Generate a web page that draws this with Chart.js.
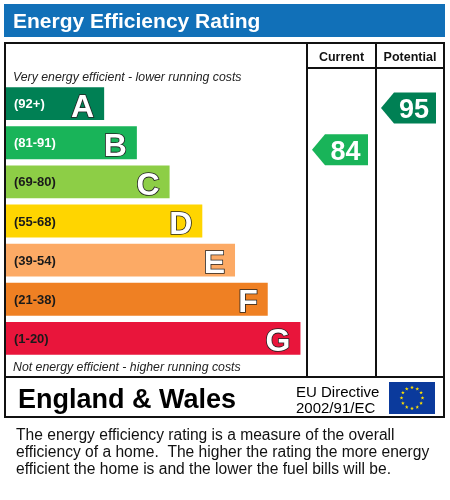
<!DOCTYPE html>
<html>
<head>
<meta charset="utf-8">
<script src="https://cdn.jsdelivr.net/npm/chart.js@4/dist/chart.umd.min.js"></script>
<style>
  html, body { margin: 0; padding: 0; background: #fff; }
  canvas { display: block; }
</style>
</head>
<body>
<canvas id="epcChart" width="450" height="500"></canvas>
<script>
// Rating bands, top (best) to bottom (worst)
const bands = ['A', 'B', 'C', 'D', 'E', 'F', 'G'];
const bandRanges = ['(92+)', '(81-91)', '(69-80)', '(55-68)', '(39-54)', '(21-38)', '(1-20)'];
const bandMin = [92, 81, 69, 55, 39, 21, 1];
const bandMax = [100, 91, 80, 68, 54, 38, 20];
const barLengths = [3, 4, 5, 6, 7, 8, 9];
const bandColors = ['#008054', '#19b459', '#8dce46', '#ffd500', '#fcaa65', '#ef8023', '#e9153b'];
const rangeTextColors = ['#ffffff', '#ffffff', '#1a1a1a', '#1a1a1a', '#1a1a1a', '#1a1a1a', '#1a1a1a'];

const currentRating = 84;
const potentialRating = 95;
const columnHeaders = ['Current', 'Potential'];

const titleText = 'Energy Efficiency Rating';
const topNote = 'Very energy efficient - lower running costs';
const bottomNote = 'Not energy efficient - higher running costs';
const regionText = 'England & Wales';
const directiveLines = ['EU Directive', '2002/91/EC'];
const footerLines = [
    'The energy efficiency rating is a measure of the overall',
    'efficiency of a home.  The higher the rating the more energy',
    'efficient the home is and the lower the fuel bills will be.'
];

const FONT = '"Liberation Sans", Arial, sans-serif';
const BOX = { left: 5, right: 444, top: 43, bottom: 417, footerTop: 377, headerBottom: 68 };
const COLS = [307, 376, 444];

function bandIndexFor(value) {
    return bandMin.findIndex(min => value >= min);
}

function drawArrow(ctx, x0, x1, yc, h, color, text) {
    const notch = 13;
    ctx.beginPath();
    ctx.moveTo(x0, yc);
    ctx.lineTo(x0 + notch, yc - h / 2);
    ctx.lineTo(x1, yc - h / 2);
    ctx.lineTo(x1, yc + h / 2);
    ctx.lineTo(x0 + notch, yc + h / 2);
    ctx.closePath();
    ctx.fillStyle = color;
    ctx.fill();

    ctx.fillStyle = '#ffffff';
    ctx.font = `bold 27px ${FONT}`;
    ctx.textAlign = 'center';
    ctx.textBaseline = 'alphabetic';
    ctx.fillText(text, (x0 + notch + x1) / 2 - 1, yc + 10);
}

function drawStar(ctx, cx, cy, r) {
    ctx.beginPath();
    for (let i = 0; i < 10; i++) {
        const ang = -Math.PI / 2 + i * Math.PI / 5;
        const rad = i % 2 === 0 ? r : r * 0.4;
        const px = cx + Math.cos(ang) * rad;
        const py = cy + Math.sin(ang) * rad;
        if (i === 0) ctx.moveTo(px, py); else ctx.lineTo(px, py);
    }
    ctx.closePath();
    ctx.fill();
}

const framePlugin = {
    id: 'epcFrame',
    beforeDraw(chart) {
        const ctx = chart.ctx;
        ctx.save();
        ctx.fillStyle = '#ffffff';
        ctx.fillRect(0, 0, chart.width, chart.height);

        // Title bar
        ctx.fillStyle = '#1170b8';
        ctx.fillRect(4, 4, 441, 33);
        ctx.fillStyle = '#ffffff';
        ctx.font = `bold 21px ${FONT}`;
        ctx.textBaseline = 'alphabetic';
        ctx.fillText(titleText, 13, 28);
        ctx.restore();
    },
    afterDraw(chart) {
        const ctx = chart.ctx;
        const yScale = chart.scales.y;
        ctx.save();

        // Box outlines
        ctx.strokeStyle = '#111111';
        ctx.lineWidth = 2;
        ctx.strokeRect(BOX.left, BOX.top, BOX.right - BOX.left, BOX.bottom - BOX.top);
        ctx.beginPath();
        ctx.moveTo(BOX.left, BOX.footerTop);
        ctx.lineTo(BOX.right, BOX.footerTop);
        ctx.moveTo(COLS[0], BOX.top);
        ctx.lineTo(COLS[0], BOX.footerTop);
        ctx.moveTo(COLS[1], BOX.top);
        ctx.lineTo(COLS[1], BOX.footerTop);
        ctx.moveTo(COLS[0], BOX.headerBottom);
        ctx.lineTo(COLS[2], BOX.headerBottom);
        ctx.stroke();

        // Column headers
        ctx.fillStyle = '#111111';
        ctx.font = `bold 12.5px ${FONT}`;
        ctx.textAlign = 'center';
        ctx.textBaseline = 'alphabetic';
        ctx.fillText(columnHeaders[0], (COLS[0] + COLS[1]) / 2, 61);
        ctx.fillText(columnHeaders[1], (COLS[1] + COLS[2]) / 2, 61);

        // Notes
        ctx.textAlign = 'left';
        ctx.font = `italic 12.3px ${FONT}`;
        ctx.fillStyle = '#222222';
        ctx.fillText(topNote, 13, 81);
        ctx.fillText(bottomNote, 13, 371);

        // Footer row of the box
        ctx.fillStyle = '#000000';
        ctx.font = `bold 27px ${FONT}`;
        ctx.fillText(regionText, 18, 408);
        ctx.font = `15px ${FONT}`;
        ctx.fillText(directiveLines[0], 296, 397);
        ctx.fillText(directiveLines[1], 296, 413);

        // EU flag
        ctx.fillStyle = '#0b3a9c';
        ctx.fillRect(389, 382, 46, 32);
        ctx.fillStyle = '#ffe000';
        for (let i = 0; i < 12; i++) {
            const a = i * Math.PI / 6;
            drawStar(ctx, 412 + Math.cos(a) * 10.5, 398 + Math.sin(a) * 10.5, 2);
        }

        // Explanation text
        ctx.fillStyle = '#111111';
        ctx.font = `15.6px ${FONT}`;
        footerLines.forEach((line, i) => ctx.fillText(line, 16, 440 + i * 17));

        // Rating arrows, placed within their band by value
        const pitch = yScale.getPixelForValue(1) - yScale.getPixelForValue(0);
        [[currentRating, 0], [potentialRating, 1]].forEach(([value, col]) => {
            const idx = bandIndexFor(value);
            const mid = (bandMin[idx] + bandMax[idx]) / 2;
            const span = bandMax[idx] - bandMin[idx] + 1;
            const yc = yScale.getPixelForValue(idx) + (mid - value) / span * pitch;
            drawArrow(ctx, COLS[col] + 5, COLS[col + 1] - 8, yc, 31, bandColors[idx], String(value));
        });

        ctx.restore();
    },
    afterDatasetsDraw(chart) {
        const ctx = chart.ctx;
        const meta = chart.getDatasetMeta(0);
        ctx.save();
        meta.data.forEach((bar, i) => {
            // Range label
            ctx.fillStyle = rangeTextColors[i];
            ctx.font = `bold 13px ${FONT}`;
            ctx.textAlign = 'left';
            ctx.textBaseline = 'middle';
            ctx.fillText(bandRanges[i], 14, bar.y + 1);

            // Band letter, white with dark outline
            ctx.font = `bold 32px ${FONT}`;
            ctx.textAlign = 'right';
            ctx.textBaseline = 'alphabetic';
            ctx.lineWidth = 1.6;
            ctx.strokeStyle = '#222222';
            ctx.fillStyle = '#ffffff';
            ctx.strokeText(bands[i], bar.x - 10, bar.y + 13);
            ctx.fillText(bands[i], bar.x - 10, bar.y + 13);
        });
        ctx.restore();
    }
};

new Chart(document.getElementById('epcChart'), {
    type: 'bar',
    data: {
        labels: bands,
        datasets: [{
            data: barLengths,
            backgroundColor: bandColors,
            borderWidth: 0,
            categoryPercentage: 1,
            barPercentage: 0.84
        }]
    },
    options: {
        indexAxis: 'y',
        responsive: false,
        animation: false,
        devicePixelRatio: 1,
        layout: { padding: { left: 6, right: 143, top: 84, bottom: 142 } },
        plugins: {
            legend: { display: false },
            tooltip: { enabled: false },
            title: { display: false }
        },
        scales: {
            x: { display: false, min: 0, max: 9.2 },
            y: { display: false }
        }
    },
    plugins: [framePlugin]
});
</script>
</body>
</html>
